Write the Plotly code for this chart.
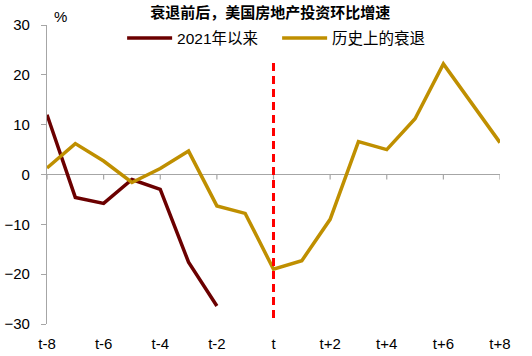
import plotly.graph_objects as go

categories = ["t-8", "t-7", "t-6", "t-5", "t-4", "t-3", "t-2", "t-1", "t",
              "t+1", "t+2", "t+3", "t+4", "t+5", "t+6", "t+7", "t+8"]
since_2021 = [12.0, -4.6, -5.8, -1.0, -3.0, -17.6, -26.4]
historical = [1.3, 6.2, 2.7, -1.6, 1.2, 4.7, -6.3, -7.8, -19.0,
              -17.3, -9.0, 6.6, 5.0, 11.2, 22.2, 14.2, 6.4]
tick_labels = ["t-8", "t-6", "t-4", "t-2", "t", "t+2", "t+4", "t+6", "t+8"]
y_ticks = [-30, -20, -10, 0, 10, 20, 30]

FONT = "Liberation Sans, Arial, Noto Sans CJK SC, sans-serif"
CJK = "Liberation Sans, Noto Sans CJK SC, sans-serif"
AXIS_GRAY = "#A6A6A6"

fig = go.Figure()
fig.add_trace(go.Scatter(x=categories[:len(since_2021)], y=since_2021, mode="lines",
                         name="2021年以来", line=dict(color="#6B0000", width=3.5)))
fig.add_trace(go.Scatter(x=categories, y=historical, mode="lines",
                         name="历史上的衰退", line=dict(color="#BF8F00", width=3.5)))

# tick marks hanging below the zero line, one per labelled category
for lab in tick_labels:
    fig.add_shape(type="line", xref="x", yref="y", x0=lab, x1=lab,
                  ysizemode="pixel", yanchor=0, y0=0, y1=-5, layer="below",
                  line=dict(color=AXIS_GRAY, width=1.2))

fig.add_shape(type="line", xref="x", yref="y", x0="t", x1="t", y0=-28.8, y1=22.6,
              line=dict(color="#FF0000", width=3, dash="8px,5px"))

fig.update_layout(
    width=532, height=356,
    margin=dict(l=47, r=32, t=25, b=32, autoexpand=False),
    paper_bgcolor="white", plot_bgcolor="white",
    font=dict(family=FONT, size=15, color="black"),
    title=dict(text="<b>衰退前后，美国房地产投资环比增速</b>", x=0.508, xanchor="center",
               y=0.963, yanchor="middle", font=dict(family=CJK, size=15, color="black")),
    legend=dict(orientation="h", x=0.508, xanchor="center", y=0.955,
                yanchor="middle", font=dict(family=CJK, size=15.5), bgcolor="rgba(0,0,0,0)",
                itemwidth=45, entrywidth=95, tracegroupgap=0),
    xaxis=dict(type="category", categoryorder="array", categoryarray=categories,
               range=[0, 16], tickvals=tick_labels, ticktext=tick_labels, automargin=False,
               showline=False, showgrid=False, zeroline=False,
               ticks="outside", ticklen=6, tickcolor="rgba(0,0,0,0)",
               tickfont=dict(size=15)),
    yaxis=dict(range=[-30, 30], tickvals=y_ticks, showline=True, linecolor=AXIS_GRAY,
               linewidth=1.2, ticks="outside", ticklen=5, tickcolor=AXIS_GRAY,
               showgrid=False, zeroline=True, zerolinecolor=AXIS_GRAY, zerolinewidth=1.2,
               tickfont=dict(size=15), ticklabelstandoff=8, automargin=False),
    annotations=[dict(text="%", xref="paper", yref="paper", x=0.029, y=1.027,
                      xanchor="center", yanchor="middle", showarrow=False,
                      font=dict(family=FONT, size=15))],
)

fig.write_html("out.html", config={"displayModeBar": False},
               post_script="document.body.style.margin='0';")
